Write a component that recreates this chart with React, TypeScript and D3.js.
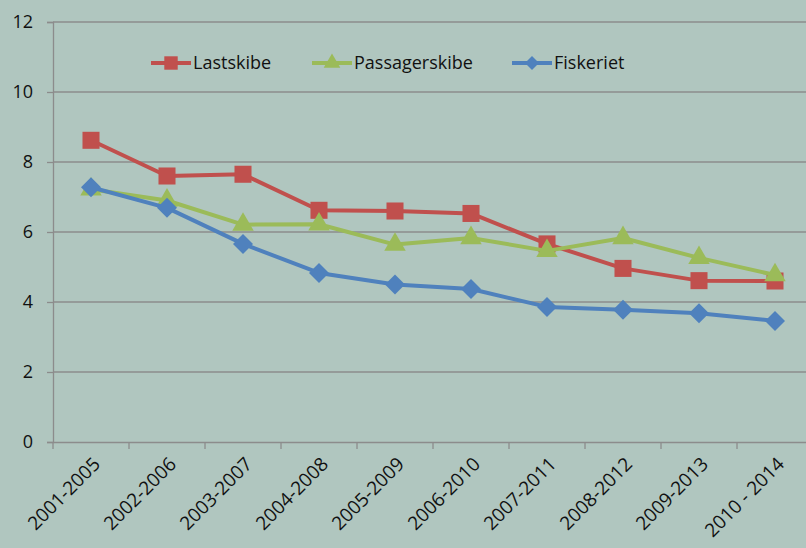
import { useEffect, useRef } from "react";
import * as d3 from "d3";

const periods = [
  "2001-2005", "2002-2006", "2003-2007", "2004-2008", "2005-2009",
  "2006-2010", "2007-2011", "2008-2012", "2009-2013", "2010 - 2014",
];
const lastskibe = [8.62, 7.6, 7.65, 6.62, 6.6, 6.53, 5.66, 4.96, 4.61, 4.6];
const passagerskibe = [7.22, 6.9, 6.21, 6.22, 5.64, 5.83, 5.46, 5.83, 5.26, 4.77];
const fiskeriet = [7.28, 6.69, 5.66, 4.83, 4.5, 4.37, 3.86, 3.78, 3.68, 3.46];
const yTicks = [0, 2, 4, 6, 8, 10, 12];

const series = [
  { name: "Lastskibe", values: lastskibe, color: "#C0504D", marker: "square" },
  { name: "Passagerskibe", values: passagerskibe, color: "#9BBB59", marker: "triangle" },
  { name: "Fiskeriet", values: fiskeriet, color: "#4F81BD", marker: "diamond" },
];

const W = 806, H = 548;
const FONT = "'Open Sans', 'Noto Sans', sans-serif";

// marker path, diamond = rotated square like Excel
function markerPath(m: string, big: boolean) {
  if (m === "square") return d3.symbol(d3.symbolSquare, big ? 290 : 180)()!;
  if (m === "triangle") return d3.symbol(d3.symbolTriangle, big ? 200 : 120)()!;
  const r = big ? 10 : 7;
  return `M0,${-r}L${r},0L0,${r}L${-r},0Z`;
}

export default function App() {
  const ref = useRef<SVGSVGElement>(null);

  useEffect(() => {
    const svg = d3.select(ref.current);
    svg.selectAll("*").remove();

    const left = 53, top = 22, bottom = 442, right = 813;
    const x = d3.scaleBand().domain(periods).range([left, right]);
    const y = d3.scaleLinear().domain([0, 12]).range([bottom, top]);

    svg.append("rect").attr("width", W).attr("height", H).attr("fill", "#B0C6BF");

    // gridlines
    svg.append("g").selectAll("line").data(yTicks.filter(t => t > 0)).join("line")
      .attr("x1", left).attr("x2", right)
      .attr("y1", d => y(d)).attr("y2", d => y(d))
      .attr("stroke", "#8C8C8C").attr("stroke-width", 1.3);

    // y axis
    const gy = svg.append("g").attr("transform", `translate(${left},0)`)
      .call(d3.axisLeft(y).tickValues(yTicks).tickSize(6).tickPadding(14));
    gy.select(".domain").attr("stroke", "#8C8C8C").attr("stroke-width", 1.3);
    gy.selectAll(".tick line").attr("stroke", "#8C8C8C").attr("stroke-width", 1.3);
    gy.selectAll("text").attr("font-family", FONT).attr("font-size", 18).attr("fill", "#111");

    // x axis
    const gx = svg.append("g").attr("transform", `translate(0,${bottom})`)
      .call(d3.axisBottom(x).tickSize(0).tickFormat(() => ""));
    gx.select(".domain").attr("stroke", "#8C8C8C").attr("stroke-width", 1.3);
    svg.append("g").selectAll("line").data(periods).join("line")
      .attr("x1", d => x(d)!).attr("x2", d => x(d)!)
      .attr("y1", bottom).attr("y2", bottom + 7)
      .attr("stroke", "#8C8C8C").attr("stroke-width", 1.3);

    svg.append("g").selectAll("text").data(periods).join("text")
      .attr("transform", d => `translate(${x(d)! + x.bandwidth() / 2 + 1},${bottom + 14}) rotate(-45)`)
      .attr("text-anchor", "end").attr("dy", "0.7em")
      .attr("font-family", FONT).attr("font-size", 19).attr("fill", "#111")
      .text(d => d);

    const cx = (i: number) => x(periods[i])! + x.bandwidth() / 2;
    const line = d3.line<number>().x((_, i) => cx(i)).y(d => y(d));

    for (const s of series) {
      const g = svg.append("g");
      g.append("path").attr("d", line(s.values)).attr("fill", "none")
        .attr("stroke", s.color).attr("stroke-width", 4).attr("stroke-linejoin", "round");
      g.selectAll("path.m").data(s.values).join("path").attr("class", "m")
        .attr("transform", (d, i) => `translate(${cx(i)},${y(d)})`)
        .attr("d", markerPath(s.marker, true)).attr("fill", s.color);
    }

    // legend
    const legX = [151, 312, 512];
    series.forEach((s, i) => {
      const g = svg.append("g").attr("transform", `translate(${legX[i]},63)`);
      g.append("line").attr("x1", 0).attr("x2", 40).attr("stroke", s.color).attr("stroke-width", 4);
      g.append("path").attr("transform", "translate(20,0)")
        .attr("d", markerPath(s.marker, false)).attr("fill", s.color);
      g.append("text").attr("x", 42).attr("dy", "0.35em")
        .attr("font-family", FONT).attr("font-size", 18).attr("fill", "#111").text(s.name);
    });
  }, []);

  return <svg ref={ref} width={W} height={H} style={{ position: "absolute", left: 0, top: 0 }} />;
}
